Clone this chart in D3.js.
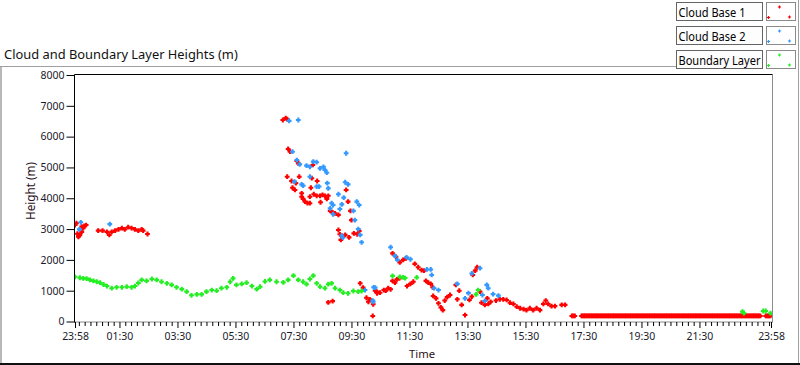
<!DOCTYPE html>
<html><head><meta charset="utf-8">
<script src="https://cdn.jsdelivr.net/npm/d3@7"></script>
<style>html,body{margin:0;padding:0;background:#fff;}svg{display:block}</style>
</head><body>
<svg id="c" width="800" height="365"></svg>
<script>
// ---------------- data (time = minutes since 00:00, height = m) ----------------
const seriesNames = ["Cloud Base 1", "Cloud Base 2", "Boundary Layer"];
const seriesColors = ["#ff0000", "#3399ff", "#22ee22"];

const cloudBase1 = [
[-2,3130],[1,3190],[3,2850],[5,2750],[6,2780],[8,2810],[12,2910],[12,3080],[15,3030],[17,3100],[21,3130],
[46,2950],[55,2950],[64,2910],[69,2810],[74,2910],[81,2950],[88,2990],[95,3030],[101,2990],[108,3060],
[115,3030],[122,2990],[129,2950],[136,2990],[139,2950],[148,2840],
[428,6540],[434,6600],[437,6570],[437,4700],[439,5600],[443,5510],[446,4560],[448,4340],[453,4270],[455,4490],
[457,5210],[460,5130],[462,4700],[467,4160],[467,4050],[470,3980],[474,3890],[479,3840],[484,3840],[484,4050],
[486,4340],[488,4650],[490,5080],[492,4130],[498,4080],[499,4560],[505,4080],[506,3870],[510,4110],[515,4080],
[519,3980],[522,4080],[522,620],[526,3590],[531,3540],[531,660],[536,3510],[543,3460],[543,2970],[546,2830],
[548,2650],[552,2750],[557,2810],[559,4270],[563,3890],[565,2730],[568,3590],[570,3290],[575,2860],[582,2830],
[586,2940],[588,1240],[594,1100],[601,770],[605,640],[608,720],[614,180],[615,560],[619,1000],[622,970],
[623,915],[629,935],[637,1020],[641,1000],[646,1080],[651,1045],[655,1320],[655,2210],[660,1260],[662,2100],
[664,1370],[669,1400],[670,1920],[677,2000],[683,2050],[685,1150],[692,1220],[698,1290],[701,1870],[708,1760],
[715,1670],[720,1650],[724,1320],[729,1260],[734,1220],[738,1110],[739,830],[745,750],[750,590],[755,460],
[759,370],[763,680],[768,790],[774,860],[786,1190],[789,720],[793,1000],[798,540],[805,210],[814,700],
[819,810],[821,1510],[826,1650],[830,1760],[836,970],[839,610],[846,540],[851,750],[853,570],[858,640],
[869,680],[877,720],[884,720],[891,700],[898,610],[905,570],[912,480],[919,430],[926,400],[932,370],
[939,430],[946,370],[953,430],[960,370],[967,570],[972,680],[977,570],[984,500],[991,500],[1005,540],
[1012,540],[1026,180],[1032,180],
[1046,180],[1051,180],[1056,180],[1061,180],[1066,180],[1071,180],[1076,180],[1081,180],[1086,180],[1091,180],
[1096,180],[1101,180],[1106,180],[1111,180],[1116,180],[1121,180],[1126,180],[1131,180],[1136,180],[1141,180],
[1146,180],[1151,180],[1156,180],[1161,180],[1166,180],[1171,180],[1176,180],[1181,180],[1186,180],[1191,180],
[1196,180],[1201,180],[1206,180],[1211,180],[1216,180],[1221,180],[1226,180],[1231,180],[1236,180],[1241,180],
[1246,180],[1251,180],[1256,180],[1261,180],[1266,180],[1271,180],[1276,180],[1281,180],[1286,180],[1291,180],
[1296,180],[1301,180],[1306,180],[1311,180],[1316,180],[1321,180],[1326,180],[1331,180],[1336,180],[1341,180],
[1346,180],[1351,180],[1356,180],[1361,180],[1366,180],[1371,180],[1376,180],[1381,180],[1386,180],[1391,180],
[1396,180],[1401,180],[1406,180],[1411,180],[1416,180],[1427,180],[1432,180],[1437,180],
[1048,180],[1053,180],[1058,180],[1063,180],[1068,180],[1073,180],[1078,180],[1083,180],[1088,180],[1093,180],
[1098,180],[1103,180],[1108,180],[1113,180],[1118,180],[1123,180],[1128,180],[1133,180],[1138,180],[1143,180],
[1148,180],[1153,180],[1158,180],[1163,180],[1168,180],[1173,180],[1178,180],[1183,180],[1188,180],[1193,180],
[1198,180],[1203,180],[1208,180],[1213,180],[1218,180],[1223,180],[1228,180],[1233,180],[1238,180],[1243,180],
[1248,180],[1253,180],[1258,180],[1263,180],[1268,180],[1273,180],[1278,180],[1283,180],[1288,180],[1293,180],
[1298,180],[1303,180],[1308,180],[1313,180],[1318,180],[1323,180],[1328,180],[1333,180],[1338,180],[1343,180],
[1348,180],[1353,180],[1358,180],[1363,180],[1368,180],[1373,180],[1378,180],[1383,180],[1388,180],[1393,180],
[1398,180],[1403,180],[1408,180],[1413,180],[1429,180],[1434,180],[1029,180]
];

const cloudBase2 = [
[7,2990],[10,3220],[70,3160],
[441,6510],[448,5510],[452,4540],[457,5240],[460,6540],[463,5100],[467,4450],[470,4410],[477,5060],[484,5020],
[484,4700],[491,5190],[498,5170],[498,4380],[503,4380],[505,4970],[512,5020],[515,4920],[519,4830],[520,4490],
[522,4320],[526,3670],[529,3840],[532,3780],[532,3480],[543,4130],[546,3650],[550,3800],[550,2790],[552,2720],
[554,4020],[557,4520],[559,5460],[563,4450],[574,3590],[577,3290],[581,3890],[584,3000],[586,3780],[588,2810],
[591,2570],[598,1020],[614,680],[615,640],[616,1110],[619,1100],[651,2410],[660,2130],[665,2000],[684,2080],
[692,2020],[726,1690],[734,1690],[736,1510],[741,1080],[750,1020],[789,1220],[805,750],[812,920],[819,1560],
[836,1730],[841,860],[846,670],[850,1190],[853,1080],[863,890],[874,840]
];

const boundaryLayer = [
[-2,1450],[8,1420],[15,1400],[22,1390],[29,1350],[36,1320],[43,1290],[50,1260],[57,1200],[64,1150],[74,1080],
[84,1110],[95,1110],[105,1130],[115,1110],[122,1150],[129,1250],[136,1350],[146,1320],[157,1380],[167,1350],
[177,1290],[188,1240],[198,1190],[208,1110],[219,1050],[229,970],[239,850],[250,880],[260,880],[270,970],
[281,1020],[291,1000],[301,1080],[312,1110],[319,1290],[325,1400],[332,1190],[343,1220],[353,1260],[364,1150],
[374,1050],[381,1130],[391,1300],[401,1350],[415,1290],[429,1270],[439,1350],[450,1490],[460,1350],[470,1290],
[477,1210],[484,1380],[491,1490],[498,1240],[505,1130],[515,1080],[522,1210],[529,1240],[536,1080],[546,1020],
[553,935],[563,915],[574,990],[584,970],[591,990],
[655,1480],[670,1450],[677,1430],[681,1410],[705,1430],[828,880],[832,1020],
[1379,320],[1382,270],[1422,340],[1427,340],[1437,270]
];

const yTickValues = [0,1000,2000,3000,4000,5000,6000,7000,8000];
const xTickValues = [-2,90,210,330,450,570,690,810,930,1050,1170,1290,1438];
const xTickLabels = ["23:58","01:30","03:30","05:30","07:30","09:30","11:30","13:30","15:30","17:30","19:30","21:30","23:58"];
const titleText = "Cloud and Boundary Layer Heights (m)";
const xAxisName = "Time";
const yAxisName = "Height (m)";

// ---------------- drawing ----------------
const FONT = "'Segoe UI','Noto Sans',sans-serif";
const svg = d3.select("#c");
svg.append("rect").attr("width",800).attr("height",365).attr("fill","#fff");

function fit(sel, w){
  const n = sel.node(); const cur = n.getComputedTextLength();
  const fs = parseFloat(sel.attr("font-size"));
  const nf = fs * w / cur; sel.attr("font-size", nf); return nf;
}

// outer frame
svg.append("line").attr("x1",0).attr("x2",676).attr("y1",66.5).attr("y2",66.5).attr("stroke","#a0a0a0");
svg.append("line").attr("x1",1).attr("x2",1).attr("y1",66).attr("y2",363).attr("stroke","#a0a0a0").attr("stroke-width",1.5);
svg.append("line").attr("x1",798.5).attr("x2",798.5).attr("y1",0).attr("y2",363).attr("stroke","#a0a0a0");
svg.append("rect").attr("x",0).attr("y",363).attr("width",800).attr("height",2).attr("fill","#111");

// title
const t = svg.append("text").attr("x",4).attr("y",59).attr("font-family",FONT).attr("font-size",12)
  .attr("fill","#111").text(titleText);
fit(t, 234);

// scales
const x = d3.scaleLinear().domain([-2,1438]).range([75,771]);
const y = d3.scaleLinear().domain([0,8000]).range([321.5,75]);

const L = 74.5, R = 772.5, T = 74.5, B = 322.5;

// plot frame
svg.append("line").attr("x1",R).attr("x2",R).attr("y1",T).attr("y2",B).attr("stroke","#8c8c8c");
svg.append("line").attr("x1",L).attr("x2",R).attr("y1",B-0.5).attr("y2",B-0.5).attr("stroke","#8c8c8c");
svg.append("line").attr("x1",L).attr("x2",R).attr("y1",T).attr("y2",T).attr("stroke","#000");

// y axis
const yAx = svg.append("g").attr("transform",`translate(${L},0)`)
  .call(d3.axisLeft(y).tickValues(yTickValues).tickSize(8).tickPadding(2).tickFormat(d3.format("d")));
yAx.select(".domain").remove();
yAx.selectAll("line").attr("stroke","#000");
yAx.selectAll("text").attr("font-family",FONT).attr("font-size",11).attr("fill","#1a1a2a");
let tickFS = 11;
{
  const s = yAx.selectAll("text").filter(d=>d===8000);
  tickFS = fit(s, 24);
  yAx.selectAll("text").attr("font-size",tickFS);
}
svg.append("line").attr("x1",L).attr("x2",L).attr("y1",T).attr("y2",B).attr("stroke","#000");

// x axis minor
const minor = d3.range(6,1438,12).filter(v => !xTickValues.includes(v));
const xMin = svg.append("g").attr("transform",`translate(0,${B-0.5})`)
  .call(d3.axisBottom(x).tickValues(minor).tickSize(4).tickFormat(""));
xMin.select(".domain").remove();
xMin.selectAll("line").attr("stroke","#000");
const xAx = svg.append("g").attr("transform",`translate(0,${B-0.5})`)
  .call(d3.axisBottom(x).tickValues(xTickValues).tickSize(6).tickFormat((d,i)=>xTickLabels[i]));
xAx.select(".domain").remove();
xAx.selectAll("line").attr("stroke","#000");
xAx.selectAll("text").attr("font-family",FONT).attr("font-size",tickFS).attr("fill","#1a1a2a")
  .attr("y",18).attr("dy",0);

// axis names
const xn = svg.append("text").attr("x",422).attr("y",358).attr("text-anchor","middle")
  .attr("font-family",FONT).attr("font-size",12).attr("fill","#2a1020").text(xAxisName);
fit(xn, 26);
const yn = svg.append("text").attr("transform","translate(35,191) rotate(-90)").attr("text-anchor","middle")
  .attr("font-family",FONT).attr("font-size",12).attr("fill","#2a1020").text(yAxisName);
fit(yn, 58);

// data
svg.append("clipPath").attr("id","pc").append("rect").attr("x",75).attr("y",75).attr("width",697).attr("height",247);
const plot = svg.append("g").attr("clip-path","url(#pc)");
const plus = h => `M${-h},0H${h}M0,${-h}V${h}`;
[cloudBase1, cloudBase2, boundaryLayer].forEach((data, i) => {
  plot.append("g").selectAll("path").data(data).join("path")
    .attr("d", plus(2.4))
    .attr("transform", d => `translate(${x(d[0])},${y(d[1])})`)
    .attr("stroke", seriesColors[i]).attr("stroke-width",2.1).attr("fill","none");
});

// legend
const legTops = [2, 26, 50];
const legW = [67, 67, 82];
seriesNames.forEach((name, i) => {
  const ty = legTops[i];
  svg.append("rect").attr("x",676.5).attr("y",ty+0.5).attr("width",86).attr("height",18)
    .attr("fill","#fdfdfd").attr("stroke","#646464");
  svg.append("text").attr("x",678.5).attr("y",ty+14.5).attr("font-family",FONT)
    .attr("font-size",12.5).attr("fill","#000")
    .attr("textLength",legW[i]).attr("lengthAdjust","spacingAndGlyphs").text(name);
  svg.append("rect").attr("x",766.5).attr("y",ty+0.5).attr("width",29).attr("height",18)
    .attr("fill","#fff").attr("stroke","#8a8a8a");
  const sw = svg.append("g");
  [[779.5,ty+5],[768.5,ty+15.5],[789.5,ty+15]].forEach(p => {
    sw.append("path").attr("d",plus(1.6)).attr("transform",`translate(${p[0]},${p[1]})`)
      .attr("stroke",seriesColors[i]).attr("stroke-width",1.2).attr("fill","none");
  });
});
</script>
</body></html>
